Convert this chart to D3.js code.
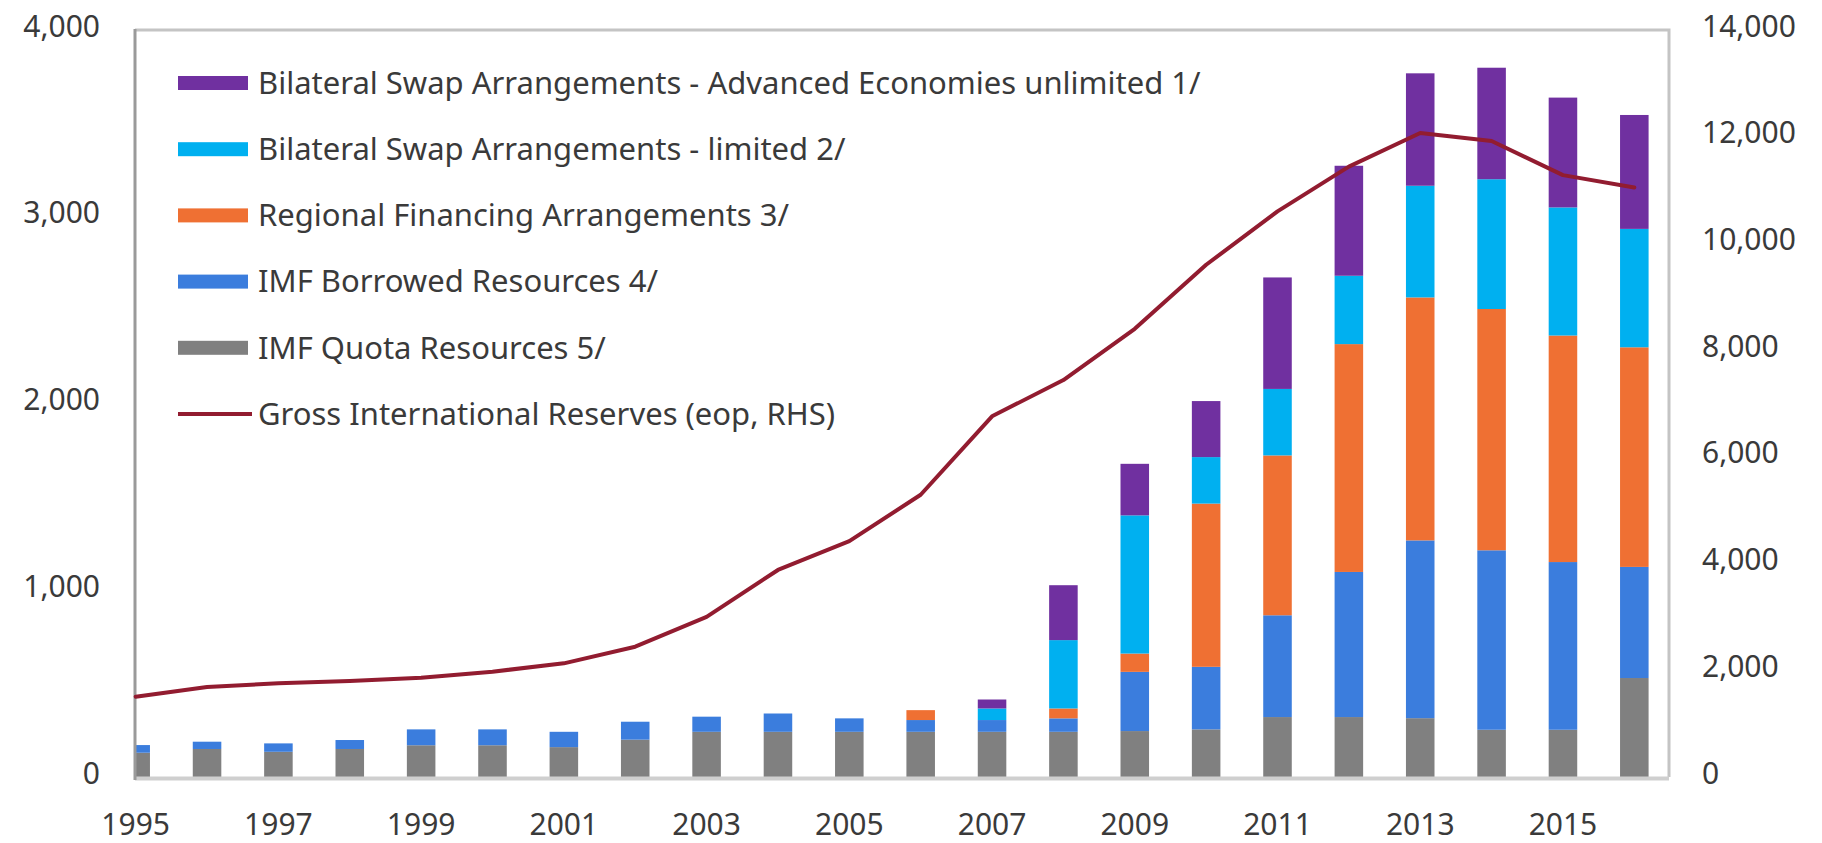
<!DOCTYPE html>
<html>
<head>
<meta charset="utf-8">
<script src="https://cdn.jsdelivr.net/npm/d3@7"></script>
<style>
  html, body { margin: 0; padding: 0; background: #ffffff; }
  svg { display: block; font-family: "Noto Sans", "Open Sans", sans-serif; }
</style>
</head>
<body>
<svg id="chart" width="1822" height="843"></svg>
<script>
// Global financial safety net components (left axis) and gross reserves (right axis)
const years = [1995, 1996, 1997, 1998, 1999, 2000, 2001, 2002, 2003, 2004, 2005,
               2006, 2007, 2008, 2009, 2010, 2011, 2012, 2013, 2014, 2015, 2016];

const quotaResources       = [130, 150, 135, 150, 170, 170, 160, 200, 242, 242, 242,
                              242, 242, 242, 246, 255, 321, 321, 315, 253, 253, 530];
const borrowedResources    = [41, 39, 45, 48, 85, 85, 82, 96, 81, 98, 72,
                              63, 63, 72, 317, 335, 545, 777, 952, 961, 898, 595];
const regionalArrangements = [0, 0, 0, 0, 0, 0, 0, 0, 0, 0, 0,
                              53, 0, 53, 98, 874, 856, 1220, 1301, 1292, 1213, 1176];
const swapLimited          = [0, 0, 0, 0, 0, 0, 0, 0, 0, 0, 0,
                              0, 62, 366, 740, 249, 356, 366, 598, 695, 686, 634];
const swapUnlimited        = [0, 0, 0, 0, 0, 0, 0, 0, 0, 0, 0,
                              0, 48, 294, 276, 300, 597, 589, 602, 597, 588, 610];
const grossReserves        = [1505, 1687, 1756, 1800, 1861, 1974, 2130, 2442, 3000, 3880, 4420,
                              5290, 6760, 7440, 8400, 9600, 10600, 11440, 12070, 11920, 11280, 11050];

const leftTicks  = [0, 1000, 2000, 3000, 4000];
const rightTicks = [0, 2000, 4000, 6000, 8000, 10000, 12000, 14000];
const xTickYears = [1995, 1997, 1999, 2001, 2003, 2005, 2007, 2009, 2011, 2013, 2015];

const barKeys   = ["quota", "borrowed", "regional", "limited", "unlimited"];
const barLabels = {
  unlimited: "Bilateral Swap Arrangements - Advanced Economies unlimited 1/",
  limited:   "Bilateral Swap Arrangements - limited 2/",
  regional:  "Regional Financing Arrangements 3/",
  borrowed:  "IMF Borrowed Resources 4/",
  quota:     "IMF Quota Resources 5/"
};
const lineLabel = "Gross International Reserves (eop, RHS)";

// ---------- layout & styling ----------
const colors = {
  quota: "#808080",
  borrowed: "#3B7DDD",
  regional: "#EF7033",
  limited: "#00B0F0",
  unlimited: "#7030A0",
  line: "#921C30"
};
const plot = { left: 135, right: 1669, top: 30, bottom: 777 };
const textColor = "#3a3a3a";

const svg = d3.select("#chart");
svg.append("rect").attr("width", 1822).attr("height", 843).attr("fill", "#ffffff");

// Build table rows for stacking
const rows = years.map((yr, i) => ({
  year: yr,
  quota: quotaResources[i],
  borrowed: borrowedResources[i],
  regional: regionalArrangements[i],
  limited: swapLimited[i],
  unlimited: swapUnlimited[i],
  reserves: grossReserves[i]
}));

const x = d3.scaleBand()
  .domain(years)
  .range([100, 1670])
  .paddingInner(0.6)
  .paddingOuter(0.3);
const yL = d3.scaleLinear().domain([0, 4000]).range([plot.bottom, plot.top]);
const yR = d3.scaleLinear().domain([0, 14000]).range([plot.bottom, plot.top]);
const cx = yr => x(yr) + x.bandwidth() / 2;

// Clip region: the plot area begins at the left value axis
svg.append("defs").append("clipPath").attr("id", "plotClip")
  .append("rect")
  .attr("x", plot.left + 1).attr("y", 0)
  .attr("width", plot.right - plot.left).attr("height", plot.bottom + 2);

// ---------- stacked bars ----------
const stacked = d3.stack().keys(barKeys)(rows);
const barsG = svg.append("g").attr("clip-path", "url(#plotClip)");
barsG.selectAll("g.layer")
  .data(stacked)
  .join("g")
  .attr("class", "layer")
  .attr("fill", d => colors[d.key])
  .selectAll("rect")
  .data(d => d)
  .join("rect")
  .attr("x", d => x(d.data.year))
  .attr("width", x.bandwidth())
  .attr("y", d => yL(d[1]))
  .attr("height", d => Math.max(0, yL(d[0]) - yL(d[1])));

// ---------- frame ----------
// top and right plot border
svg.append("path")
  .attr("d", `M${plot.left},${plot.top}H${plot.right}V${plot.bottom}`)
  .attr("fill", "none").attr("stroke", "#c4c4c4").attr("stroke-width", 3);
// category axis baseline
svg.append("line")
  .attr("x1", plot.left).attr("x2", plot.right)
  .attr("y1", plot.bottom + 1.5).attr("y2", plot.bottom + 1.5)
  .attr("stroke", "#cfcfcf").attr("stroke-width", 4);
// left value axis line
svg.append("line")
  .attr("x1", plot.left).attr("x2", plot.left)
  .attr("y1", plot.top - 1).attr("y2", plot.bottom + 3)
  .attr("stroke", "#9a9a9a").attr("stroke-width", 3);

// ---------- reserves line (RHS) ----------
const line = d3.line()
  .x(d => cx(d.year))
  .y(d => yR(d.reserves));
svg.append("path")
  .datum(rows)
  .attr("d", line)
  .attr("fill", "none")
  .attr("stroke", colors.line)
  .attr("stroke-width", 4)
  .attr("stroke-linejoin", "round")
  .attr("stroke-linecap", "round");

// ---------- axes ----------
const fmt = d3.format(",");

const leftAxis = svg.append("g")
  .attr("transform", `translate(${plot.left},0)`)
  .call(d3.axisLeft(yL).tickValues(leftTicks).tickFormat(fmt).tickSize(0).tickPadding(35));

const rightAxis = svg.append("g")
  .attr("transform", `translate(${plot.right},0)`)
  .call(d3.axisRight(yR).tickValues(rightTicks).tickFormat(fmt).tickSize(0).tickPadding(33));

const bottomAxis = svg.append("g")
  .attr("transform", `translate(0,${plot.bottom})`)
  .call(d3.axisBottom(x).tickValues(xTickYears).tickSize(0).tickPadding(37));

[leftAxis, rightAxis, bottomAxis].forEach(g => {
  g.select(".domain").remove();
  g.selectAll("text")
    .attr("font-family", "\"Noto Sans\", \"Open Sans\", sans-serif")
    .attr("font-size", 30)
    .attr("fill", textColor);
});
leftAxis.selectAll("text").attr("dy", "0.3em").attr("transform", "translate(0,-3)");
rightAxis.selectAll("text").attr("dy", "0.3em").attr("transform", "translate(0,-3)");

// ---------- legend ----------
const legendKeys = ["unlimited", "limited", "regional", "borrowed", "quota"];
const legend = svg.append("g").attr("transform", "translate(178,83)");
const rowGap = 66.2;

legendKeys.forEach((k, i) => {
  const g = legend.append("g").attr("transform", `translate(0,${i * rowGap})`);
  g.append("rect")
    .attr("x", 0).attr("y", -7)
    .attr("width", 70).attr("height", 14)
    .attr("fill", colors[k]);
  g.append("text")
    .attr("x", 80).attr("y", 0).attr("dy", "0.35em")
    .attr("font-size", 31).attr("fill", textColor)
    .text(barLabels[k]);
});
{
  const g = legend.append("g").attr("transform", `translate(0,${legendKeys.length * rowGap})`);
  g.append("line")
    .attr("x1", 0).attr("x2", 74).attr("y1", 0).attr("y2", 0)
    .attr("stroke", colors.line).attr("stroke-width", 4);
  g.append("text")
    .attr("x", 80).attr("y", 0).attr("dy", "0.35em")
    .attr("font-size", 31).attr("fill", textColor)
    .text(lineLabel);
}
</script>
</body>
</html>
